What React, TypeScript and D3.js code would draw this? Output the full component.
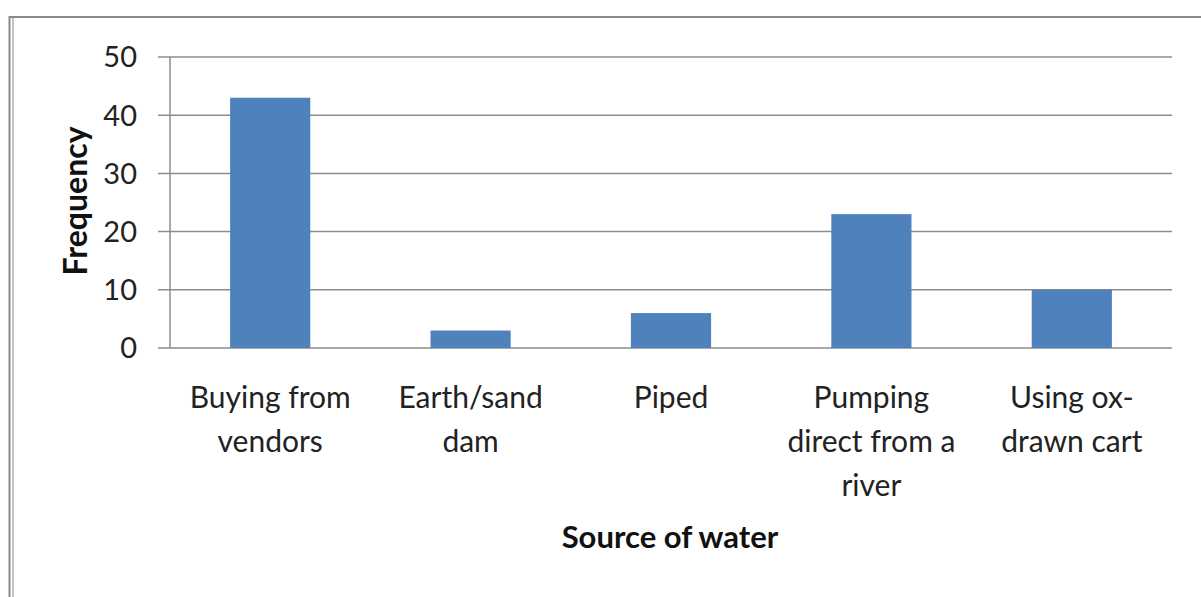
import React from "react";
import * as d3 from "d3";

const categories: string[][] = [
  ["Buying from", "vendors"],
  ["Earth/sand", "dam"],
  ["Piped"],
  ["Pumping", "direct from a", "river"],
  ["Using ox-", "drawn cart"],
];
const frequencies: number[] = [43, 3, 6, 23, 10];
const yTicks: number[] = [0, 10, 20, 30, 40, 50];

const W = 1201;
const H = 597;
const plot = { left: 170, right: 1172, top: 57, bottom: 348 };
const FONT = "Lato, 'Open Sans', sans-serif";

export default function App() {
  const keys = categories.map((c) => c.join(" "));
  const x = d3
    .scaleBand<string>()
    .domain(keys)
    .range([plot.left, plot.right])
    .paddingInner(0.6)
    .paddingOuter(0.3);
  const y = d3.scaleLinear().domain([0, 50]).range([plot.bottom, plot.top]);

  return (
    <svg
      width={W}
      height={H}
      style={{ position: "absolute", left: 0, top: 0, background: "#fff" }}
      fontFamily={FONT}
    >
      {/* chart frame */}
      <line x1={9} x2={W} y1={17} y2={17} stroke="#8a8a8a" strokeWidth={2} />
      <line x1={9.5} x2={9.5} y1={16} y2={H} stroke="#8a8a8a" strokeWidth={2} />
      <line x1={13} x2={13} y1={18} y2={H} stroke="#b0b0b0" strokeWidth={1.5} />

      {/* gridlines and y ticks */}
      {yTicks.map((t) => (
        <g key={t}>
          <line
            x1={plot.left - 12}
            x2={plot.right}
            y1={y(t)}
            y2={y(t)}
            stroke="#8c8c8c"
            strokeWidth={1.5}
          />
          <text
            x={plot.left - 33}
            y={y(t)}
            dy="0.36em"
            textAnchor="end"
            fontSize={29}
            fill="#222"
          >
            {t}
          </text>
        </g>
      ))}
      <line
        x1={plot.left}
        x2={plot.left}
        y1={plot.top}
        y2={plot.bottom}
        stroke="#8c8c8c"
        strokeWidth={1.5}
      />

      {/* bars */}
      {keys.map((k, i) => (
        <rect
          key={k}
          x={x(k)!}
          y={y(frequencies[i])}
          width={x.bandwidth()}
          height={y(0) - y(frequencies[i])}
          fill="#4F81BD"
        />
      ))}

      {/* category labels */}
      {categories.map((lines, i) => {
        const cx = x(keys[i])! + x.bandwidth() / 2;
        return (
          <text key={keys[i]} textAnchor="middle" fontSize={30} fill="#222">
            {lines.map((ln, j) => (
              <tspan key={j} x={cx} y={408 + j * 44}>
                {ln}
              </tspan>
            ))}
          </text>
        );
      })}

      {/* axis titles */}
      <text
        x={670}
        y={548}
        textAnchor="middle"
        fontSize={31}
        fontWeight="bold"
        fill="#111"
      >
        Source of water
      </text>
      <text
        transform={`translate(87, 201) rotate(-90)`}
        textAnchor="middle"
        fontSize={32}
        fontWeight="bold"
        fill="#111"
      >
        Frequency
      </text>
    </svg>
  );
}
